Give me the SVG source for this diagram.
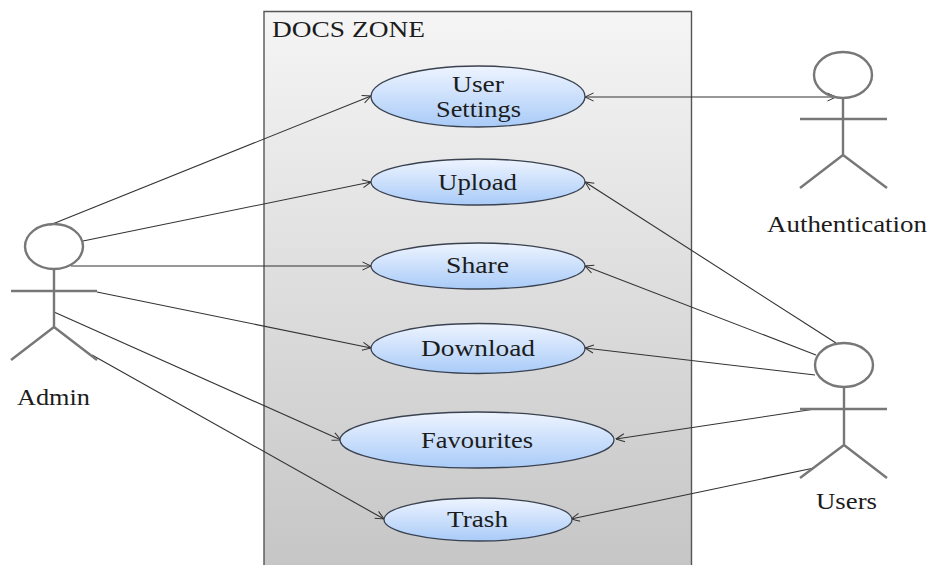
<svg xmlns="http://www.w3.org/2000/svg" width="929" height="565" viewBox="0 0 929 565">
<defs>
<linearGradient id="zone" x1="0" y1="0" x2="0" y2="1"><stop offset="0" stop-color="#f5f5f5"/><stop offset="1" stop-color="#c6c6c6"/></linearGradient>
<linearGradient id="uc" x1="0" y1="0" x2="0" y2="1"><stop offset="0" stop-color="#eef4ff"/><stop offset="1" stop-color="#a9cbf8"/></linearGradient>
<marker id="open" viewBox="0 0 10 10" refX="9.500" refY="5" markerWidth="10" markerHeight="10" markerUnits="userSpaceOnUse" orient="auto-start-reverse"><path d="M1 1 L9.500 5 L1 9" fill="none" stroke="#333" stroke-width="1"/></marker>
</defs>
<style>
text{font-family:"Liberation Serif","Times New Roman",serif;fill:#1c1c1c;font-size:23px}
.a ellipse,.a path{fill:none;stroke:#777;stroke-width:2.400}
.u ellipse{fill:url(#uc);stroke:#3a4250;stroke-width:1.300}
#connectors line{stroke:#333;stroke-width:1.100;marker-end:url(#open)}
</style>
<rect width="929" height="565" fill="#fff"/>
<g id="zone-box"><path d="M264 565V11.500H691.500V565" fill="url(#zone)" stroke="#555" stroke-width="1.400"/><text x="272" y="37" textLength="153" lengthAdjust="spacingAndGlyphs">DOCS ZONE</text></g>
<g id="connectors">
<line x1="50" y1="225" x2="371" y2="96"/>
<line x1="83" y1="241" x2="371" y2="182"/>
<line x1="71" y1="266" x2="371" y2="266"/>
<line x1="97" y1="292" x2="371" y2="348"/>
<line x1="54" y1="312" x2="341" y2="440"/>
<line x1="92" y1="355" x2="384" y2="519"/>
<line x1="585" y1="97" x2="836" y2="97" marker-start="url(#open)"/>
<line x1="836" y1="343" x2="585" y2="182"/>
<line x1="816" y1="355" x2="585" y2="266"/>
<line x1="815" y1="375" x2="585" y2="348"/>
<line x1="815" y1="409" x2="616" y2="439"/>
<line x1="814" y1="468" x2="571" y2="519"/>
</g>
<g id="usecase-settings" class="u"><ellipse cx="478" cy="96.500" rx="107" ry="30.500"/><text x="452" y="92" textLength="52" lengthAdjust="spacingAndGlyphs">User</text><text x="436" y="117" textLength="85" lengthAdjust="spacingAndGlyphs">Settings</text></g>
<g id="usecase-upload" class="u"><ellipse cx="478" cy="182" rx="107" ry="23"/><text x="438" y="190" textLength="79" lengthAdjust="spacingAndGlyphs">Upload</text></g>
<g id="usecase-share" class="u"><ellipse cx="478" cy="266" rx="107" ry="23"/><text x="446" y="273" textLength="63" lengthAdjust="spacingAndGlyphs">Share</text></g>
<g id="usecase-download" class="u"><ellipse cx="478" cy="348.500" rx="107" ry="25"/><text x="421" y="356" textLength="114" lengthAdjust="spacingAndGlyphs">Download</text></g>
<g id="usecase-favourites" class="u"><ellipse cx="477" cy="440" rx="137" ry="28"/><text x="421" y="448" textLength="112" lengthAdjust="spacingAndGlyphs">Favourites</text></g>
<g id="usecase-trash" class="u"><ellipse cx="478" cy="519.500" rx="94" ry="21.500"/><text x="447" y="527" textLength="61" lengthAdjust="spacingAndGlyphs">Trash</text></g>
<g id="actor-admin" class="a"><ellipse cx="54" cy="246.500" rx="29" ry="22.500"/><path d="M54 269V327M11 291H97M54 327L11 360M54 327L97 360"/><text x="17" y="405" textLength="73" lengthAdjust="spacingAndGlyphs">Admin</text></g>
<g id="actor-authentication" class="a"><ellipse cx="843" cy="75" rx="29" ry="23"/><path d="M843 98V155M800 119H887M843 155L800 188M843 155L887 188"/><text x="767" y="232" textLength="160" lengthAdjust="spacingAndGlyphs">Authentication</text></g>
<g id="actor-users" class="a"><ellipse cx="844" cy="365" rx="29" ry="22"/><path d="M844 387V445M800 409H887M844 445L800 478M844 445L887 478"/><text x="816" y="509" textLength="61" lengthAdjust="spacingAndGlyphs">Users</text></g>
</svg>
